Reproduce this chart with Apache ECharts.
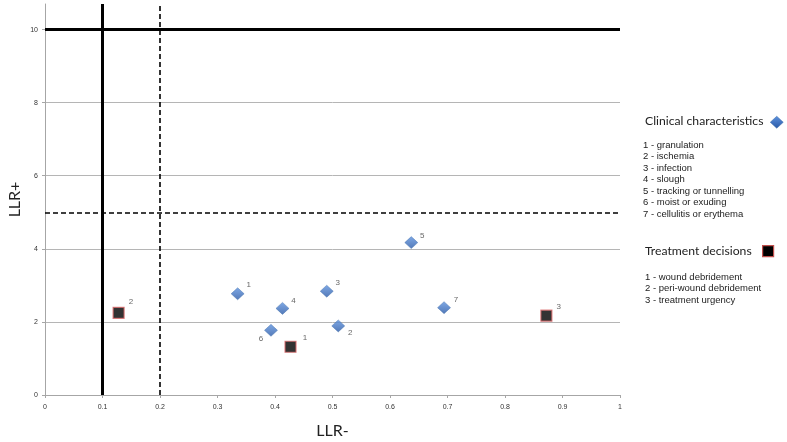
<!DOCTYPE html>
<html>
<head>
<meta charset="utf-8">
<script src="https://cdn.jsdelivr.net/npm/echarts@6/dist/echarts.min.js"></script>
<style>html,body{margin:0;padding:0;background:#fff}#c{width:787px;height:442px}</style>
</head>
<body>
<div id="c"></div>
<script>
// Data
var clinicalLabels = ['1','2','3','4','5','6','7'];
var clinicalX = [0.335, 0.510, 0.490, 0.413, 0.637, 0.393, 0.694];
var clinicalY = [2.77, 1.89, 2.84, 2.37, 4.17, 1.77, 2.39];
var treatmentLabels = ['1','2','3'];
var treatmentX = [0.427, 0.128, 0.872];
var treatmentY = [1.32, 2.25, 2.17];
var xTicks = [0,0.1,0.2,0.3,0.4,0.5,0.6,0.7,0.8,0.9,1];
var yTicks = [0,2,4,6,8,10];
var thresholdsX = [0.1, 0.2];
var thresholdsY = [10, 5];
var clinicalLegend = ['1 - granulation','2 - ischemia','3 - infection','4 - slough','5 - tracking or tunnelling','6 - moist or exuding','7 - cellulitis or erythema'];
var treatmentLegend = ['1 - wound debridement','2 - peri-wound debridement','3 - treatment urgency'];

// Label placements (style)
var clinicalLabelPos = [
  {position:'right', offset:[1,-9]},
  {position:'right', offset:[2,7]},
  {position:'right', offset:[1,-8]},
  {position:'right', offset:[1,-8]},
  {position:'right', offset:[1,-7]},
  {position:'left', offset:[0,8]},
  {position:'right', offset:[2,-8]}
];
var treatmentLabelPos = [
  {position:'right', offset:[5,-9]},
  {position:'right', offset:[3,-11]},
  {position:'right', offset:[3,-9]}
];

var chart = echarts.init(document.getElementById('c'));
var blue = new echarts.graphic.LinearGradient(0,0,0,1,[{offset:0,color:'#5e92de'},{offset:1,color:'#2858a6'}]);

var clinicalData = clinicalX.map(function(x,i){
  return {value:[x, clinicalY[i]], name: clinicalLabels[i],
    label:{show:true, formatter: clinicalLabels[i], position: clinicalLabelPos[i].position, offset: clinicalLabelPos[i].offset, distance:1}};
});
var treatmentData = treatmentX.map(function(x,i){
  return {value:[x, treatmentY[i]], name: treatmentLabels[i],
    label:{show:true, formatter: treatmentLabels[i], position: treatmentLabelPos[i].position, offset: treatmentLabelPos[i].offset, distance:1}};
});

var markData = [];
thresholdsX.forEach(function(v,i){
  markData.push({xAxis:v, lineStyle:{color:'#000', width: i===0?3:1.6, type: i===0?'solid':[5,3]}});
});
thresholdsY.forEach(function(v,i){
  markData.push({yAxis:v, lineStyle:{color:'#000', width: i===0?3:1.6, type: i===0?'solid':[5,3]}});
});

var labelStyle = {fontSize:8, color:'#404040', fontFamily:'Liberation Sans'};

var graphics = [];
graphics.push({type:'text', left:645, top:115, style:{text:'Clinical characteristics', fontSize:12.2, fontFamily:'Lato', fill:'#222'}});
graphics.push({type:'polygon', shape:{points:[[0,6],[6.5,0],[13,6],[6.5,12]]}, left:770, top:116, style:{fill: blue, stroke:'#3a6aa8', lineWidth:0.5}});
clinicalLegend.forEach(function(t,i){
  graphics.push({type:'text', left:643, top:140 + i*11.55, style:{text:t, fontSize:9.5, fontFamily:'Liberation Sans', fill:'#222'}});
});
graphics.push({type:'text', left:645, top:245, style:{text:'Treatment decisions', fontSize:12.2, fontFamily:'Lato', fill:'#222'}});
graphics.push({type:'rect', shape:{x:0,y:0,width:11,height:11}, left:762, top:245, style:{fill:'#000', stroke:'#c0504d', lineWidth:1.2}});
treatmentLegend.forEach(function(t,i){
  graphics.push({type:'text', left:645, top:272 + i*11.55, style:{text:t, fontSize:9.5, fontFamily:'Liberation Sans', fill:'#222'}});
});

chart.setOption({
  animation:false,
  backgroundColor:'#fff',
  grid:{left:45, right:167, top:4, bottom:47, containLabel:false, outerBoundsMode:'none'},
  xAxis:{
    type:'value', min:0, max:1, interval:0.1,
    name:'LLR-', nameLocation:'middle', nameGap:28,
    nameTextStyle:{fontSize:16, fontFamily:'Lato', color:'#222'},
    axisLine:{show:true, lineStyle:{color:'#a6a6a6'}},
    axisTick:{show:true, length:3, lineStyle:{color:'#a6a6a6'}},
    axisLabel:{fontSize:7, color:'#333', fontFamily:'Liberation Sans', margin:9,
      formatter:function(v){return String(+v.toFixed(1));}},
    splitLine:{show:false}
  },
  yAxis:{
    type:'value', min:0, max:10.7, interval:2,
    name:'LLR+', nameLocation:'middle', nameGap:22, nameMoveOverlap:false,
    nameTextStyle:{fontSize:16, fontFamily:'Lato', color:'#222'},
    axisLine:{show:true, lineStyle:{color:'#a6a6a6'}},
    axisTick:{show:true, length:3, lineStyle:{color:'#a6a6a6'}, customValues: yTicks},
    axisLabel:{fontSize:7, color:'#333', fontFamily:'Liberation Sans', margin:7, customValues: yTicks},
    splitLine:{show:true, lineStyle:{color:'#b5b5b5', width:1}}
  },
  graphic: graphics,
  series:[
    {
      type:'scatter', name:'Clinical characteristics', z:3,
      symbol:'diamond', symbolSize:[13,12],
      itemStyle:{color: blue, borderColor:'#3a6aa8', borderWidth:0.5},
      label:labelStyle,
      data: clinicalData,
      markLine:{silent:true, symbol:'none', label:{show:false}, animation:false, data: markData}
    },
    {
      type:'scatter', name:'Treatment decisions', z:3,
      symbol:'rect', symbolSize:11,
      itemStyle:{color:'#000', borderColor:'#d9696a', borderWidth:1.2},
      label:labelStyle,
      data: treatmentData
    }
  ]
});
</script>
</body>
</html>
